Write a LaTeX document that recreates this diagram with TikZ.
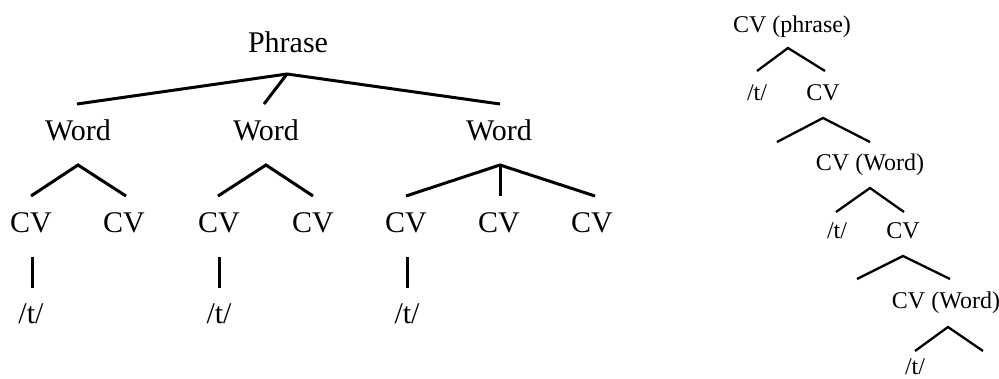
\documentclass[tikz,border=0pt]{standalone}
\usepackage{fontspec}
\setmainfont{Liberation Serif}
\begin{document}
\begin{tikzpicture}[x=1pt,y=-1pt,
  big/.style={anchor=base,inner sep=0pt,font=\fontsize{30}{36}\selectfont},
  small/.style={anchor=base,inner sep=0pt,font=\fontsize{24}{29}\selectfont},
  thick line/.style={line width=3pt},
  thin line/.style={line width=2.3pt}]
\useasboundingbox (0,0) rectangle (999,378);
% ---------- left tree ----------
\node[big] (phrase) at (288,52) {Phrase};
\node[big] (w1) at (78,140) {Word};
\node[big] (w2) at (266,140) {Word};
\node[big] (w3) at (499,140) {Word};
\node[big] (c1) at (31,232) {CV};
\node[big] (c2) at (124,232) {CV};
\node[big] (c3) at (219,232) {CV};
\node[big] (c4) at (313,232) {CV};
\node[big] (c5) at (406,232) {CV};
\node[big] (c6) at (499,232) {CV};
\node[big] (c7) at (592,232) {CV};
\node[big] (t1) at (31,323) {/t/};
\node[big] (t2) at (219,323) {/t/};
\node[big] (t3) at (407,323) {/t/};
\coordinate (pA) at (287,74);
\coordinate (pL) at (77,104);
\coordinate (pM) at (264,104);
\coordinate (pR) at (500,104);
\draw[thick line] (pL) -- (pA) -- (pR);
\draw[thick line] (pA) -- (pM);
\coordinate (a1) at (78,165);
\coordinate (a1l) at (31,196);
\coordinate (a1r) at (126,196);
\draw[thick line] (a1l) -- (a1) -- (a1r);
\coordinate (a2) at (266,165);
\coordinate (a2l) at (218,196);
\coordinate (a2r) at (313,196);
\draw[thick line] (a2l) -- (a2) -- (a2r);
\coordinate (a3) at (500,165);
\coordinate (a3l) at (406,196);
\coordinate (a3m) at (500,196);
\coordinate (a3r) at (595,196);
\draw[thick line] (a3l) -- (a3) -- (a3r);
\draw[thick line] (a3) -- (a3m);
\coordinate (v1t) at (32,257); \coordinate (v1b) at (32,288);
\coordinate (v2t) at (219,257); \coordinate (v2b) at (219,288);
\coordinate (v3t) at (407,257); \coordinate (v3b) at (407,288);
\draw[thick line] (v1t) -- (v1b);
\draw[thick line] (v2t) -- (v2b);
\draw[thick line] (v3t) -- (v3b);
% ---------- right tree ----------
\node[small] (rp) at (792,32) {CV (phrase)};
\node[small] (rt1) at (757,100) {/t/};
\node[small] (rc1) at (823,100) {CV};
\node[small] (rw1) at (870,170) {CV (Word)};
\node[small] (rt2) at (837,238) {/t/};
\node[small] (rc2) at (903,238) {CV};
\node[small] (rw2) at (946,308) {CV (Word)};
\node[small] (rt3) at (915,374) {/t/};
\coordinate (b1) at (788,48);
\coordinate (b1l) at (757,71);
\coordinate (b1r) at (825,71);
\draw[thin line] (b1l) -- (b1) -- (b1r);
\coordinate (b2) at (823,118);
\coordinate (b2l) at (777,142);
\coordinate (b2r) at (870,142);
\draw[thin line] (b2l) -- (b2) -- (b2r);
\coordinate (b3) at (870,188);
\coordinate (b3l) at (836,212);
\coordinate (b3r) at (904,212);
\draw[thin line] (b3l) -- (b3) -- (b3r);
\coordinate (b4) at (903,256);
\coordinate (b4l) at (857,279);
\coordinate (b4r) at (950,279);
\draw[thin line] (b4l) -- (b4) -- (b4r);
\coordinate (b5) at (948,327);
\coordinate (b5l) at (915,351);
\coordinate (b5r) at (983,351);
\draw[thin line] (b5l) -- (b5) -- (b5r);
\end{tikzpicture}
\end{document}
